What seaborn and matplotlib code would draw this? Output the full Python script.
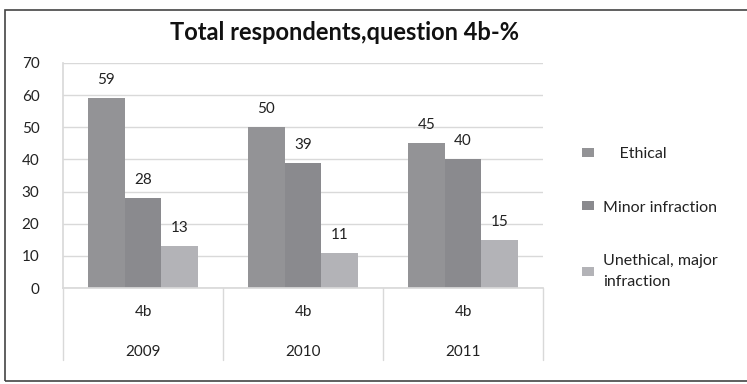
import matplotlib
matplotlib.use("Agg")
import matplotlib.pyplot as plt
import matplotlib.transforms as mtransforms
from matplotlib.patches import Rectangle
import seaborn as sns
import pandas as pd

years = ["2009", "2010", "2011"]
subcats = ["4b", "4b", "4b"]
series = ["Ethical", "Minor infraction", "Unethical, major\ninfraction"]
ethical = [59, 50, 45]
minor = [28, 39, 40]
unethical = [13, 11, 15]
yticks = [0, 10, 20, 30, 40, 50, 60, 70]

colors = ["#939396", "#8a8a8e", "#b3b3b7"]

rows = []
for i, y in enumerate(years):
    for s, vals in zip(series, [ethical, minor, unethical]):
        rows.append({"year": y, "series": s, "value": vals[i]})
df = pd.DataFrame(rows)

sns.set_theme(style="white")
plt.rcParams["font.family"] = ["Lato", "DejaVu Sans"]

W, H = 747, 384
fig = plt.figure(figsize=(W / 100, H / 100), dpi=100)
ax = fig.add_axes([63 / W, (H - 288) / H, 480 / W, 225 / H])

sns.barplot(data=df, x="year", y="value", hue="series", palette=colors,
            hue_order=series, order=years, width=0.69, saturation=1,
            linewidth=0, edgecolor="none", ax=ax, legend=True)

ax.set_ylim(0, 70)
ax.set_xlim(-0.5, 2.5)
ax.set_yticks(yticks)
ax.set_yticklabels([str(t) for t in yticks], fontsize=11, color="#222222")
ax.tick_params(axis="y", length=0, pad=17)
ax.set_xticks([])
ax.set_xlabel("")
ax.set_ylabel("")
ax.yaxis.grid(True, color="#d9d9d9", linewidth=1)
ax.set_axisbelow(True)
for sp in ["top", "right"]:
    ax.spines[sp].set_visible(False)
ax.spines["left"].set_color("#d9d9d9")
ax.spines["bottom"].set_color("#d9d9d9")

for c in ax.containers:
    ax.bar_label(c, fontsize=11, padding=8, color="#222222")

# multi-level category axis
trans = mtransforms.blended_transform_factory(ax.transData, ax.transAxes)
for xb in [-0.5, 0.5, 1.5, 2.5]:
    ax.plot([xb, xb], [0, -72 / 225], color="#d9d9d9", linewidth=1,
            transform=trans, clip_on=False)
for i, (y, s) in enumerate(zip(years, subcats)):
    ax.text(i, -24 / 225, s, transform=trans, ha="center", va="center",
            fontsize=11, color="#222222")
    ax.text(i, -64 / 225, y, transform=trans, ha="center", va="center",
            fontsize=11, color="#222222")

# legend
handles, labels = ax.get_legend_handles_labels()
ax.legend_.remove()
labels = ["    Ethical", "Minor infraction", "Unethical, major\ninfraction"]
leg = fig.legend(handles, labels, loc="upper left",
                 bbox_to_anchor=(568 / W, 1 - 133 / H), frameon=False,
                 fontsize=11.5, labelspacing=2.45, handlelength=0.7,
                 handleheight=0.5, handletextpad=0.6)
for t in leg.get_texts():
    t.set_color("#222222")
    t.set_linespacing(1.7)

fig.text(345 / W, 1 - 32 / H, "Total respondents,question 4b-%",
         ha="center", va="center", fontsize=17, fontweight="bold",
         color="#111111")

fig.patches.append(Rectangle((5 / W, 3 / H), 1 - 5 / W + 0.01, (374 - 3) / H,
                             transform=fig.transFigure, fill=False,
                             edgecolor="#444444", linewidth=1.2))

fig.savefig("out.png", dpi=100)
